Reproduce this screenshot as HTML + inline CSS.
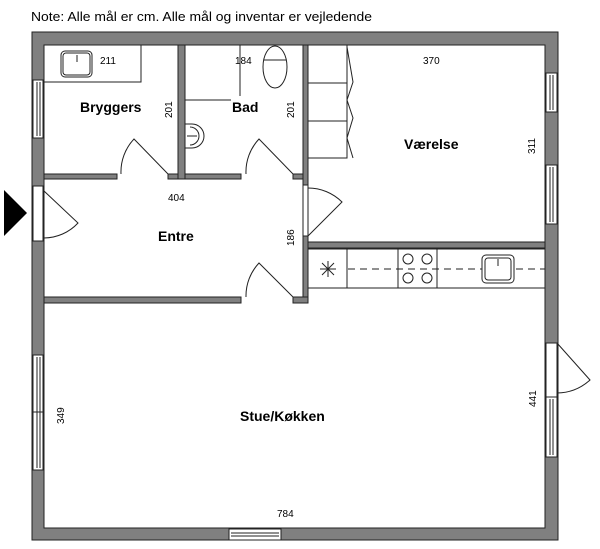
<!DOCTYPE html>
<html><head><meta charset="utf-8"><style>
body{margin:0;background:#fff;width:600px;height:549px;overflow:hidden}
svg{display:block}
text{font-family:"Liberation Sans",sans-serif;fill:#000}
.b{font-weight:bold;font-size:14px}
.d{font-size:10px}
</style></head><body>
<svg width="600" height="549" viewBox="0 0 600 549" xmlns="http://www.w3.org/2000/svg">
<text x="31" y="21" font-size="12.5" textLength="341" lengthAdjust="spacingAndGlyphs">Note: Alle mål er cm. Alle mål og inventar er vejledende</text>
<g fill="#808080" stroke="#222" stroke-width="1">
<path d="M32 32H558V540H32Z M44 45V528H545V45Z" fill-rule="evenodd"/>
<rect x="44" y="174" width="73" height="5"/>
<rect x="168" y="174" width="73" height="5"/>
<rect x="293" y="174" width="10" height="5"/>
<rect x="178" y="45" width="7" height="134"/>
<rect x="303" y="45" width="5" height="140"/>
<rect x="303" y="236" width="5" height="67"/>
<rect x="44" y="297" width="197" height="6"/>
<rect x="293" y="297" width="15" height="6"/>
<rect x="308" y="242" width="237" height="6"/>
</g>
<g fill="#fff" stroke="#222" stroke-width="1">
<rect x="33" y="80" width="10" height="58"/><line x1="37" y1="82" x2="37" y2="136"/><line x1="40" y1="82" x2="40" y2="136"/>
<rect x="33" y="355" width="10" height="115"/><line x1="37" y1="357" x2="37" y2="468"/><line x1="40" y1="357" x2="40" y2="468"/><line x1="33" y1="412" x2="43" y2="412"/>
<rect x="546" y="73" width="11" height="39"/><line x1="550" y1="75" x2="550" y2="110"/><line x1="553" y1="75" x2="553" y2="110"/>
<rect x="546" y="165" width="11" height="59"/><line x1="550" y1="167" x2="550" y2="222"/><line x1="553" y1="167" x2="553" y2="222"/>
<rect x="546" y="397" width="11" height="60"/><line x1="550" y1="399" x2="550" y2="455"/><line x1="553" y1="399" x2="553" y2="455"/>
<rect x="229" y="529" width="52" height="11"/><line x1="231" y1="533" x2="279" y2="533"/><line x1="231" y1="536" x2="279" y2="536"/>
<rect x="33" y="186" width="10" height="55"/>
<rect x="546" y="343" width="11" height="54"/>
<rect x="303" y="185" width="5" height="51"/>
</g>
<g fill="none" stroke="#222" stroke-width="1">
<path d="M44 191 L78 223 A47 47 0 0 1 44 238"/>
<path d="M557 343 L590 380 A50 50 0 0 1 557 393"/>
<path d="M168 174 L134 139 A48 48 0 0 0 121 174"/>
<path d="M293 174 L259 139 A48 48 0 0 0 246 174"/>
<path d="M293 297 L259 263 A48 48 0 0 0 246 297"/>
<path d="M308 236 L342 202 A48 48 0 0 0 308 188"/>
<path d="M44 82 H141 V45"/>
<rect x="61" y="51" width="31" height="26" rx="4"/><rect x="63" y="53" width="27" height="22" rx="3"/>
<line x1="77" y1="55" x2="77" y2="62"/>
<line x1="240" y1="45" x2="240" y2="96"/><line x1="185" y1="100" x2="231" y2="100"/>
<ellipse cx="275" cy="67" rx="12" ry="21"/><line x1="264" y1="60" x2="286" y2="60"/>
<path d="M185 124 H192 A12 12 0 0 1 192 148 H185"/><path d="M190 127 A9 9 0 0 1 190 145"/>
<line x1="187" y1="136" x2="197" y2="136"/>
<rect x="308" y="45" width="39" height="113"/><line x1="308" y1="83" x2="347" y2="83"/><line x1="308" y1="121" x2="347" y2="121"/>
<path d="M347 47 L353 82 L347 100 L353 118 L347 138 L353 158"/>
<rect x="308" y="249" width="237" height="39"/>
<line x1="347" y1="249" x2="347" y2="288"/><line x1="398" y1="249" x2="398" y2="288"/><line x1="437" y1="249" x2="437" y2="288"/>
<line x1="348" y1="269" x2="545" y2="269" stroke-dasharray="7,5"/>
<line x1="320" y1="269" x2="336" y2="269"/><line x1="328" y1="261" x2="328" y2="277"/><line x1="322" y1="263" x2="334" y2="275"/><line x1="334" y1="263" x2="322" y2="275"/>
<circle cx="408" cy="259" r="5"/><circle cx="427" cy="259" r="5"/><circle cx="408" cy="278" r="5"/><circle cx="427" cy="278" r="5"/>
<rect x="482" y="255" width="32" height="28" rx="4" fill="#fff"/><rect x="485" y="258" width="26" height="22" rx="3"/>
<line x1="498" y1="259" x2="498" y2="266"/>
</g>
<polygon points="4,190 27,213 4,236" fill="#000"/>
<text class="b" x="80" y="112">Bryggers</text>
<text class="b" x="232" y="112">Bad</text>
<text class="b" x="404" y="149">Værelse</text>
<text class="b" x="158" y="241">Entre</text>
<text class="b" x="240" y="421">Stue/Køkken</text>
<text class="d" x="100" y="64">211</text>
<text class="d" x="235" y="64">184</text>
<text class="d" x="423" y="64">370</text>
<text class="d" x="168" y="201">404</text>
<text class="d" x="277" y="517">784</text>
<text class="d" transform="translate(172,118) rotate(-90)">201</text>
<text class="d" transform="translate(294,118) rotate(-90)">201</text>
<text class="d" transform="translate(294,246) rotate(-90)">186</text>
<text class="d" transform="translate(535,154) rotate(-90)">311</text>
<text class="d" transform="translate(536,407) rotate(-90)">441</text>
<text class="d" transform="translate(64,424) rotate(-90)">349</text>
</svg>
</body></html>
